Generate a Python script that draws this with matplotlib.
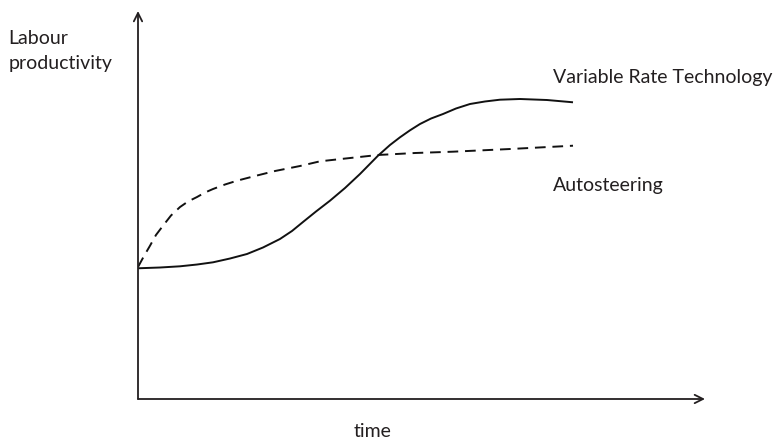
import matplotlib
matplotlib.use("Agg")
import matplotlib.pyplot as plt

# Time axis 0-100 (arbitrary units), productivity 0-100 (arbitrary units)
vrt_time = [0.0, 3.88, 7.41, 10.41, 13.23, 16.23, 19.22, 22.05, 25.04, 27.16, 29.10, 31.39,
            33.86, 36.51, 39.15, 42.33, 44.44, 46.21, 47.97, 49.74, 51.68, 53.79, 56.08,
            58.55, 61.20, 63.84, 67.37, 72.13, 76.72]
vrt_prod = [33.69, 33.89, 34.20, 34.66, 35.23, 36.21, 37.37, 39.05, 41.24, 43.30, 45.62, 48.32,
            51.11, 54.38, 57.99, 62.71, 65.46, 67.45, 69.25, 70.88, 72.29, 73.45, 74.87,
            76.03, 76.68, 77.14, 77.32, 77.06, 76.47]

auto_time = [0.0, 1.06, 2.12, 3.17, 4.41, 5.82, 7.41, 8.82, 10.41, 11.82, 13.23, 15.34,
             17.46, 20.63, 24.16, 28.57, 32.10, 37.39, 42.33, 48.85, 55.56, 65.61, 76.72]
auto_prod = [34.02, 36.86, 39.51, 42.27, 44.66, 47.29, 49.48, 50.90, 52.06, 53.22, 54.12, 55.28,
             56.26, 57.47, 58.76, 60.05, 61.26, 62.11, 62.89, 63.40, 63.74, 64.43, 65.28]

series_labels = ["Variable Rate Technology", "Autosteering"]
y_label = "Labour\nproductivity"
x_label = "time"

W, H = 778, 439
fig = plt.figure(figsize=(W / 100, H / 100), dpi=100)
ax = fig.add_axes([138 / W, (H - 400) / H, (705 - 138) / W, (400 - 12) / H])
ax.set_xlim(0, 100)
ax.set_ylim(0, 100)
ax.axis("off")

font = "Lato"
fs = 14.0
txt_color = "#231f20"

ax.plot(vrt_time, vrt_prod, color="#111111", lw=1.4, solid_capstyle="butt",
        solid_joinstyle="round")
ax.plot(auto_time, auto_prod, color="#111111", lw=1.4, linestyle=(0, (5.5, 3.5)))

axis_col = "#231f20"
for end in [(100, 0), (0, 100)]:
    ax.annotate("", xy=end, xytext=(0, 0), xycoords="data",
                arrowprops=dict(arrowstyle="->,head_length=0.6,head_width=0.3", color=axis_col,
                                lw=1.3, shrinkA=0, shrinkB=0), annotation_clip=False)

ax.text(73.2, 83.0, series_labels[0], fontsize=fs, family=font, color=txt_color,
        ha="left", va="center", clip_on=False)
ax.text(73.2, 55.4, series_labels[1], fontsize=fs, family=font, color=txt_color,
        ha="left", va="center", clip_on=False)
ax.text(-22.9, 95.3, y_label, fontsize=fs, family=font, color=txt_color,
        ha="left", va="top", linespacing=1.55, clip_on=False)
ax.text(41.4, -8.0, x_label, fontsize=fs, family=font, color=txt_color,
        ha="center", va="center", clip_on=False)

fig.savefig("out.png", dpi=100)
